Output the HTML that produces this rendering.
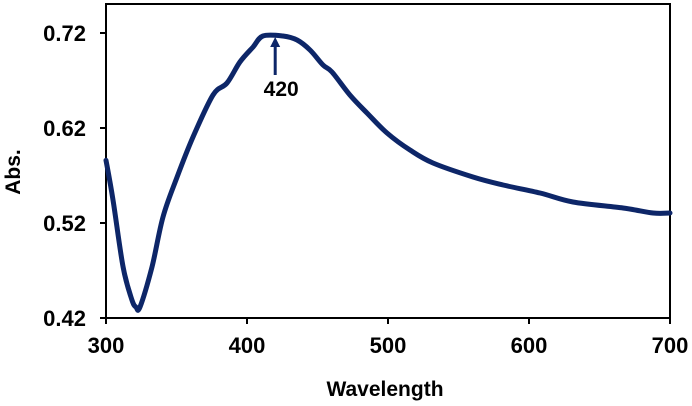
<!DOCTYPE html>
<html><head><meta charset="utf-8"><style>
body{margin:0;background:#fff;}
svg{display:block;font-family:"Liberation Sans",Arial,sans-serif;font-weight:bold;}
</style></head><body>
<svg id="chart" width="692" height="406">
<g id="plot"></g>
</svg>
<script>
const wavelengths=[300,305,312.1,318.4,321.3,324.1,332.6,340.4,350.4,361.7,375.9,385.8,395,404.3,411.3,425.5,435.5,444.7,453.9,460.3,473,485.1,499.3,515.6,531.9,560.3,581.6,607.8,631.2,666.7,688,700];
const absorbance=[0.586,0.5442,0.4737,0.439,0.4315,0.4315,0.4737,0.5263,0.5684,0.6105,0.6547,0.6674,0.6895,0.7053,0.7168,0.7168,0.7126,0.7021,0.6863,0.6789,0.6547,0.6358,0.6147,0.5968,0.5832,0.5684,0.56,0.5516,0.5421,0.5358,0.5305,0.5305];
const xTicks=[300,400,500,600,700];
const yTicks=[0.42,0.52,0.62,0.72];
const peakLabel=420;
const X0=106,X1=670,Y0=318,Ytop=4;
const xS=v=>X0+(v-300)/400*(X1-X0);
const yS=v=>Y0-(v-0.42)/0.30*(Y0-33);
const NS="http://www.w3.org/2000/svg";
const g=document.getElementById('plot');
function mk(t,a,txt){const e=document.createElementNS(NS,t);for(const k in a)e.setAttribute(k,a[k]);if(txt!==undefined)e.textContent=txt;g.appendChild(e);return e;}
let fr=mk('rect',{x:X0,y:Ytop,width:X1-X0,height:Y0-Ytop,fill:'none',stroke:'#000','stroke-width':2});


xTicks.forEach(v=>{
 let t=mk('line',{x1:xS(v),x2:xS(v),y1:Y0,y2:Y0+6,stroke:'#000','stroke-width':2});
 
 
 let l=mk('text',{x:xS(v),y:353,'text-anchor':'middle','font-size':22},String(v));
 
 
});
yTicks.forEach(v=>{
 let t=mk('line',{x1:X0-6,x2:X0,y1:yS(v),y2:yS(v),stroke:'#000','stroke-width':2});
 
 
 let l=mk('text',{x:86,y:yS(v)+8,'text-anchor':'end','font-size':22},v.toFixed(2));
 
 
});
const pts=wavelengths.map((w,i)=>[xS(w),yS(absorbance[i])]);
let d='M'+pts[0][0].toFixed(1)+' '+pts[0][1].toFixed(1);
for(let i=0;i<pts.length-1;i++){
 const p0=pts[Math.max(0,i-1)],p1=pts[i],p2=pts[i+1],p3=pts[Math.min(pts.length-1,i+2)];
 const c1x=p1[0]+(p2[0]-p0[0])/6,c1y=p1[1]+(p2[1]-p0[1])/6;
 const c2x=p2[0]-(p3[0]-p1[0])/6,c2y=p2[1]-(p3[1]-p1[1])/6;
 d+=` C${c1x.toFixed(1)} ${c1y.toFixed(1)} ${c2x.toFixed(1)} ${c2y.toFixed(1)} ${p2[0].toFixed(1)} ${p2[1].toFixed(1)}`;
}
let p=mk('path',{d:d,fill:'none',stroke:'#0d2668','stroke-width':5,'stroke-linejoin':'round','stroke-linecap':'round'});


const ax=xS(peakLabel);
let ar=mk('line',{x1:ax,x2:ax,y1:75,y2:44,stroke:'#0d2668','stroke-width':3});


let ah=mk('polygon',{points:`${ax-5},47 ${ax+5},47 ${ax},37`,fill:'#0d2668'});


let pl=mk('text',{x:ax+6,y:96,'text-anchor':'middle','font-size':21},String(peakLabel));


let xt=mk('text',{x:385,y:396,'text-anchor':'middle','font-size':21},'Wavelength');


let yt=mk('text',{x:0,y:0,'text-anchor':'middle','font-size':21,transform:'translate(20,172) rotate(-90)'},'Abs.');


</script>
</body></html>
